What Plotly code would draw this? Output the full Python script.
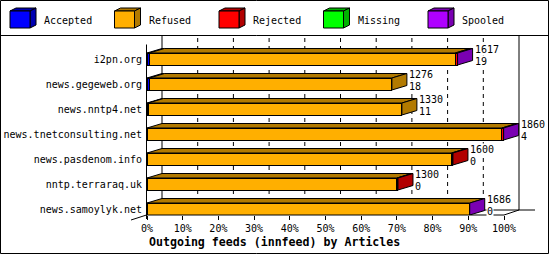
import plotly.graph_objects as go

# ---------------- data ----------------
hosts = ["i2pn.org", "news.gegeweb.org", "news.nntp4.net", "news.tnetconsulting.net",
         "news.pasdenom.info", "nntp.terraraq.uk", "news.samoylyk.net"]
series = ["Accepted", "Refused", "Rejected", "Missing", "Spooled"]
accepted = [0.65, 0.7, 0.4, 0.0, 0.0, 0.0, 0.0]
refused = [85.7, 67.9, 71.0, 99.4, 85.3, 70.0, 90.4]
rejected = [0.65, None, None, 0.5, 0.4, 0.3, 0.0]
missing = [0.0, None, None, 0.0, None, None, 0.0]
spooled = [0.0, None, None, 0.0, None, None, 0.0]
totals = [1617, 1276, 1330, 1860, 1600, 1300, 1686]
spool_counts = [19, 18, 11, 4, 0, 0, 0]
xticks = list(range(0, 101, 10))
title_text = "Outgoing feeds (innfeed) by Articles"

values = [accepted, refused, rejected, missing, spooled]
front_col = ["#0000ff", "#ffaf00", "#ff0000", "#00ff00", "#af00ff"]
shade_col = ["#0000b2", "#b27a00", "#b20000", "#00b200", "#7a00b2"]

# ---------------- geometry ----------------
W, H = 550, 255
ML, MR, MT, MB = 147, 5, 35, 40
PW, PH = W - ML - MR, H - MT - MB
PPP = 3.57            # px per percent
ROWPX = 25            # px per row
ROW0 = 59             # px centre of first row
XMAX = PW / PPP
YTOP = (MT - ROW0) / ROWPX
YBOT = (H - MB - ROW0) / ROWPX
DX = 15 / PPP          # depth in x (percent)
DY = -4.5 / ROWPX      # depth in y (rows)
BW = 12 / ROWPX        # bar thickness (rows)
FONT = "DejaVu Sans Mono"

def pxx(px):
    return (px - ML) / PW

def pxy(py):
    return (H - MB - py) / PH

def xpx(v):
    return ML + v * PPP

ypos = list(range(len(hosts)))

fig = go.Figure()

# front faces (stacked bars)
for s, name in enumerate(series):
    fig.add_trace(go.Bar(
        y=ypos, x=values[s], orientation="h", name=name, width=BW,
        marker=dict(color=front_col[s], line=dict(color="black", width=1)),
        showlegend=False, hoverinfo="skip"))

# top faces and side faces
tops = {s: ([], []) for s in range(len(series))}
sides = {s: ([], []) for s in range(len(series))}
ends = []
for i in ypos:
    base = 0.0
    last = None
    yt = i - BW / 2
    yb = i + BW / 2
    for s in range(len(series)):
        v = values[s][i]
        if v is None:
            continue
        last = s
        if v > 0:
            xs, ys = tops[s]
            xs += [base, base + v, base + v + DX, base + DX, base, None]
            ys += [yt, yt, yt + DY, yt + DY, yt, None]
        base += v
    ends.append(base)
    xs, ys = sides[last]
    xs += [base, base + DX, base + DX, base, base, None]
    ys += [yt, yt + DY, yb + DY, yb, yt, None]

for s in range(len(series)):
    for d in (tops[s], sides[s]):
        if d[0]:
            fig.add_trace(go.Scatter(
                x=d[0], y=d[1], mode="lines", fill="toself",
                fillcolor=shade_col[s], line=dict(color="black", width=1),
                showlegend=False, hoverinfo="skip"))

# value labels
ann = []
for i in ypos:
    for txt, off in ((totals[i], -0.38), (spool_counts[i], 0.09)):
        ann.append(dict(x=ends[i] + DX, y=i + off, xref="x", yref="y",
                        text=str(txt), showarrow=False, xanchor="left",
                        yanchor="middle", xshift=1, bgcolor="white", borderpad=0,
                        font=dict(family=FONT, size=10, color="black")))

# back-wall grid lines
shapes = []
floor_back_px = 210
for t in xticks:
    shapes.append(dict(type="line", xref="x", yref="paper", layer="below",
                       x0=t + DX, x1=t + DX, y0=pxy(floor_back_px), y1=pxy(MT),
                       line=dict(color="black", width=1,
                                 dash="solid" if t in (0, 100) else "4px,4px")))

def pline(x0, y0, x1, y1, layer="above"):
    return dict(type="line", xref="paper", yref="paper", layer=layer,
                x0=pxx(x0), y0=pxy(y0), x1=pxx(x1), y1=pxy(y1),
                line=dict(color="black", width=1))

x0p = xpx(0)
x100 = xpx(100)
front_y = H - MB
shapes += [
    pline(x0p + 15, floor_back_px, x100 + 31, floor_back_px, "below"),  # floor back edge
    pline(x0p - 0.5, 44.5, x0p - 0.5, front_y + 4),          # front left axis
    pline(x0p - 0.5, front_y, x100, front_y),                 # front bottom axis
    pline(x0p - 16, front_y + 5, x0p - 0.5, front_y),         # floor left edge
    pline(x100, front_y, x100 + 15, floor_back_px),           # floor right edge
    pline(0.5, 35.5, 548.5, 35.5),                            # legend separator
    dict(type="rect", xref="paper", yref="paper", layer="above",
         x0=pxx(0.5), y0=pxy(0.5), x1=pxx(548.5), y1=pxy(253.5),
         line=dict(color="black", width=1)),
]

# legend (3D boxes)
for s, name in enumerate(series):
    lx = 10 + s * 104.5
    top, bot, wd = 11, 28, 20
    ddx, ddy = 6, -3
    shapes.append(dict(type="path", xref="paper", yref="paper",
                       path="M {} {} L {} {} L {} {} L {} {} Z".format(
                           pxx(lx), pxy(top), pxx(lx + wd), pxy(top),
                           pxx(lx + wd + ddx), pxy(top + ddy), pxx(lx + ddx), pxy(top + ddy)),
                       fillcolor=shade_col[s], line=dict(color="black", width=1)))
    shapes.append(dict(type="path", xref="paper", yref="paper",
                       path="M {} {} L {} {} L {} {} L {} {} Z".format(
                           pxx(lx + wd), pxy(top), pxx(lx + wd + ddx), pxy(top + ddy),
                           pxx(lx + wd + ddx), pxy(bot + ddy), pxx(lx + wd), pxy(bot)),
                       fillcolor=shade_col[s], line=dict(color="black", width=1)))
    shapes.append(dict(type="rect", xref="paper", yref="paper",
                       x0=pxx(lx), x1=pxx(lx + wd), y0=pxy(bot), y1=pxy(top),
                       fillcolor=front_col[s], line=dict(color="black", width=1)))
    ann.append(dict(x=pxx(lx + 32), y=pxy(20), xref="paper", yref="paper",
                    text=name, showarrow=False, xanchor="left", yanchor="middle",
                    font=dict(family=FONT, size=10, color="black")))

ann.append(dict(x=pxx(147), y=pxy(242), xref="paper", yref="paper",
                text="<b>" + title_text + "</b>", showarrow=False,
                xanchor="left", yanchor="middle",
                font=dict(family=FONT, size=11.6, color="black")))

fig.update_layout(
    width=W, height=H, margin=dict(l=ML, r=MR, t=MT, b=MB, pad=0, autoexpand=False),
    paper_bgcolor="white", plot_bgcolor="white", barmode="stack",
    showlegend=False, shapes=shapes, annotations=ann,
    xaxis=dict(range=[0, XMAX], tickvals=xticks, automargin=False,
               ticktext=["{}%".format(t) for t in xticks],
               ticks="outside", ticklen=4, tickcolor="black", tickwidth=1,
               showgrid=False, zeroline=False, showline=False,
               tickfont=dict(family=FONT, size=10, color="black"), fixedrange=True),
    yaxis=dict(range=[YBOT, YTOP], tickvals=ypos, ticktext=hosts, automargin=False,
               ticks="outside", ticklen=2, tickcolor="rgba(0,0,0,0)",
               showgrid=False, zeroline=False, showline=False,
               tickfont=dict(family=FONT, size=10, color="black"), fixedrange=True),
)

fig.write_html("out.html")
